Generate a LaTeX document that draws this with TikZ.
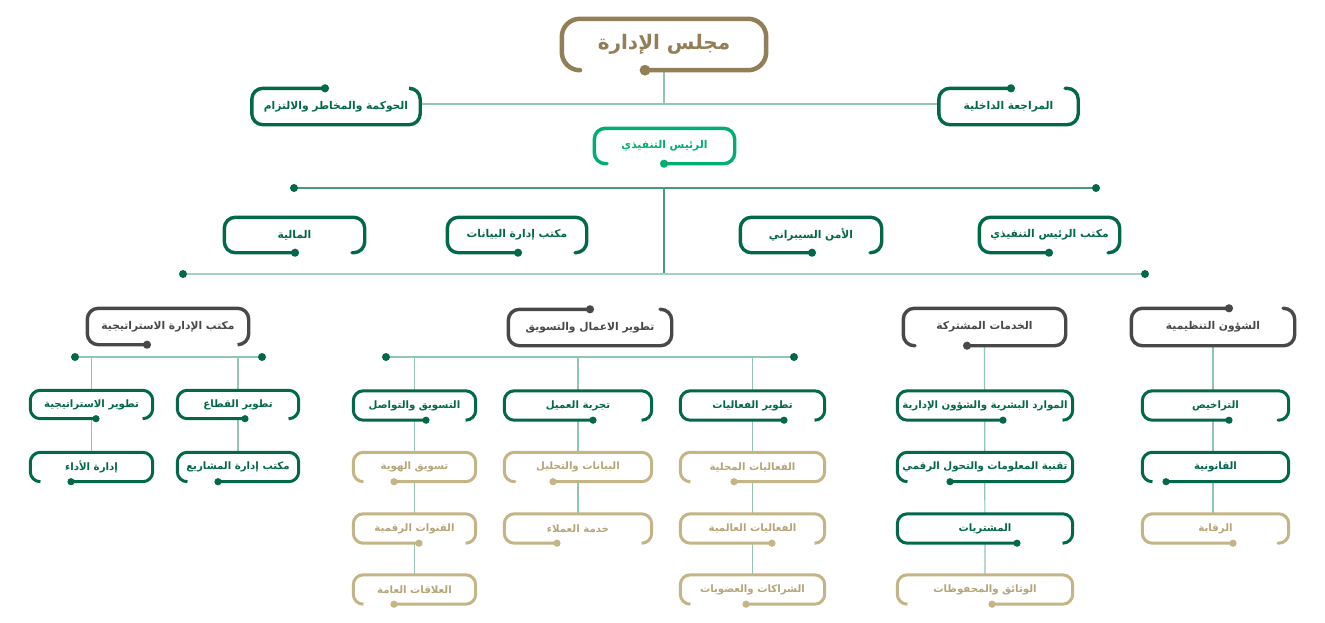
\documentclass[tikz,border=0pt]{standalone}
\usepackage{fontspec}
\newfontfamily\arabicfont[Script=Arabic]{DejaVu Sans}
\TeXXeTstate=1
\usetikzlibrary{backgrounds}
\pgfdeclarelayer{canvas}
\pgfsetlayers{canvas,background,main}
\definecolor{dgreen}{HTML}{03684A}
\definecolor{bgreen}{HTML}{00AE6F}
\definecolor{brownc}{HTML}{917F58}
\definecolor{beige}{HTML}{C4B587}
\definecolor{beigetext}{HTML}{B5A57A}
\definecolor{grayc}{HTML}{48484A}
\definecolor{lineA}{HTML}{93C6B2}
\definecolor{lineB}{HTML}{479B7B}
\definecolor{lineC}{HTML}{A6D0C0}
\newcommand\ar[1]{\beginR#1\endR}
% border with gap in top edge: dot on left part, stub at right corner
\newcommand\brdT[4]{%
  \draw[#1] (#4,0 |- #2.north) -- (#2.north east) -- (#2.south east) -- (#2.south west) -- (#2.north west) -- (#3,0 |- #2.north);
  \fill[#1] (#3,0 |- #2.north) circle[radius=1.2\pgflinewidth];}
% gap in bottom edge: dot on left part, stub at right corner
\newcommand\brdBR[4]{%
  \draw[#1] (#4,0 |- #2.south) -- (#2.south east) -- (#2.north east) -- (#2.north west) -- (#2.south west) -- (#3,0 |- #2.south);
  \fill[#1] (#3,0 |- #2.south) circle[radius=1.2\pgflinewidth];}
% gap in bottom edge: stub at left corner, dot on right part
\newcommand\brdBL[4]{%
  \draw[#1] (#4,0 |- #2.south) -- (#2.south west) -- (#2.north west) -- (#2.north east) -- (#2.south east) -- (#3,0 |- #2.south);
  \fill[#1] (#3,0 |- #2.south) circle[radius=1.2\pgflinewidth];}
\tikzset{
  boxn/.style={rectangle, rounded corners=11pt, fill=white, inner sep=0pt,
    font=\arabicfont\bfseries\fontsize{10.7}{13}\selectfont},
  lvl/.style={boxn, minimum height=36pt},
  sml/.style={boxn, minimum height=29pt, rounded corners=10pt,
    font=\arabicfont\bfseries\fontsize{10.2}{12}\selectfont},
  edgeL/.style={line cap=round, rounded corners=11pt, line width=3.4pt},
  edgeS/.style={line cap=round, rounded corners=10pt, line width=3pt},
  connA/.style={lineA, line width=1.2pt},
  connB/.style={lineB, line width=1.2pt},
  connC/.style={lineC, line width=2pt},
  enddot/.style={fill=dgreen},
}
\begin{document}
\begin{tikzpicture}[x=1pt,y=-1pt]
\begin{pgfonlayer}{canvas}
\fill[white] (0,0) rectangle (1325,622);
\end{pgfonlayer}
\useasboundingbox (0,0) rectangle (1325,622);

% ---------- top level ----------
\node[boxn, rounded corners=18pt, minimum width=204pt, minimum height=51pt, text=brownc,
  font=\arabicfont\bfseries\fontsize{20}{24}\selectfont] (board) at (664,44.5) {\ar{مجلس الإدارة}};
\brdBL{line cap=round, rounded corners=18pt, line width=4.5pt, brownc}{board}{645}{580}

\node[lvl, minimum width=168pt, text=dgreen] (gov) at (336,106.5) {\ar{الحوكمة والمخاطر والالتزام}};
\brdT{edgeL,dgreen}{gov}{325}{410}
\node[lvl, minimum width=139pt, text=dgreen] (audit) at (1008.5,106.5) {\ar{المراجعة الداخلية}};
\brdT{edgeL,dgreen}{audit}{1011}{1065}

\node[lvl, minimum width=140pt, minimum height=35pt, text=bgreen] (ceo) at (664.5,146) {\ar{الرئيس التنفيذي}};
\brdBL{edgeL,bgreen}{ceo}{664}{607}

\node[lvl, minimum width=140pt, minimum height=35pt, text=dgreen] (finance) at (294.5,235) {\ar{المالية}};
\brdBR{edgeL,dgreen}{finance}{295}{352}
\node[lvl, minimum width=139pt, minimum height=35pt, text=dgreen] (data) at (517,235) {\ar{مكتب إدارة البيانات}};
\brdBR{edgeL,dgreen}{data}{518}{575}
\node[lvl, minimum width=141pt, minimum height=35pt, text=dgreen] (cyber) at (811,235) {\ar{الأمن السيبراني}};
\brdBR{edgeL,dgreen}{cyber}{812}{870}
\node[lvl, minimum width=140pt, minimum height=35pt, text=dgreen] (ceooff) at (1049.5,235) {\ar{مكتب الرئيس التنفيذي}};
\brdBR{edgeL,dgreen}{ceooff}{1049}{1108}

% ---------- sector heads ----------
\node[lvl, minimum width=161pt, text=grayc] (strat) at (168,326.5) {\ar{مكتب الإدارة الاستراتيجية}};
\brdBR{edgeL,grayc}{strat}{147}{238}
\node[lvl, minimum width=163pt, text=grayc] (bizdev) at (590,327.5) {\ar{تطوير الاعمال والتسويق}};
\brdT{edgeL,grayc}{bizdev}{590}{660}
\node[lvl, minimum width=162pt, minimum height=37pt, text=grayc] (shared) at (984.5,327) {\ar{الخدمات المشتركة}};
\brdBL{edgeL,grayc}{shared}{967}{915}
\node[lvl, minimum width=163pt, minimum height=37pt, text=grayc] (reg) at (1213,327) {\ar{الشؤون التنظيمية}};
\brdT{edgeL,grayc}{reg}{1229}{1283}

% ---------- strategy ----------
\node[sml, minimum width=122pt, minimum height=28pt, text=dgreen] (stratdev) at (91.5,404.5) {\ar{تطوير الاستراتيجية}};
\brdBR{edgeS,dgreen}{stratdev}{96}{143}
\node[sml, minimum width=121pt, minimum height=28pt, text=dgreen] (sector) at (238,404.5) {\ar{تطوير القطاع}};
\brdBR{edgeS,dgreen}{sector}{245}{290}
\node[sml, minimum width=122pt, text=dgreen] (perf) at (91.5,467) {\ar{إدارة الأداء}};
\brdBL{edgeS,dgreen}{perf}{71}{40}
\node[sml, minimum width=121pt, text=dgreen] (pmo) at (238,467) {\ar{مكتب إدارة المشاريع}};
\brdBL{edgeS,dgreen}{pmo}{218}{187}

% ---------- business development ----------
\node[sml, minimum width=122pt, text=dgreen] (mkt) at (414.5,405.5) {\ar{التسويق والتواصل}};
\brdBR{edgeS,dgreen}{mkt}{426}{466}
\node[sml, minimum width=147pt, text=dgreen] (cx) at (578,405.5) {\ar{تجربة العميل}};
\brdBR{edgeS,dgreen}{cx}{593}{642}
\node[sml, minimum width=144pt, text=dgreen] (events) at (752.5,405.5) {\ar{تطوير الفعاليات}};
\brdBR{edgeS,dgreen}{events}{784}{815}

\node[sml, minimum width=122pt, text=beigetext] (identity) at (414.5,467) {\ar{تسويق الهوية}};
\brdBL{edgeS,beige}{identity}{394}{363}
\node[sml, minimum width=147pt, text=beigetext] (analytics) at (578,467) {\ar{البيانات والتحليل}};
\brdBL{edgeS,beige}{analytics}{553}{515}
\node[sml, minimum width=144pt, text=beigetext] (local) at (752.5,467) {\ar{الفعاليات المحلية}};
\brdBL{edgeS,beige}{local}{734}{690}

\node[sml, minimum width=122pt, text=beigetext] (digital) at (414.5,528.5) {\ar{القنوات الرقمية}};
\brdBR{edgeS,beige}{digital}{419}{466}
\node[sml, minimum width=147pt, text=beigetext] (service) at (578,528.5) {\ar{خدمة العملاء}};
\brdBR{edgeS,beige}{service}{557}{642}
\node[sml, minimum width=144pt, text=beigetext] (global) at (752.5,528.5) {\ar{الفعاليات العالمية}};
\brdBR{edgeS,beige}{global}{772}{815}

\node[sml, minimum width=122pt, text=beigetext] (pr) at (414.5,589.5) {\ar{العلاقات العامة}};
\brdBL{edgeS,beige}{pr}{394}{363}
\node[sml, minimum width=144pt, text=beigetext] (partners) at (752.5,589.5) {\ar{الشراكات والعضويات}};
\brdBL{edgeS,beige}{partners}{746}{690}

% ---------- shared services ----------
\node[sml, minimum width=175pt, text=dgreen] (hr) at (985,405.5) {\ar{الموارد البشرية والشؤون الإدارية}};
\brdBR{edgeS,dgreen}{hr}{1003}{1063}
\node[sml, minimum width=175pt, text=dgreen] (it) at (985,467) {\ar{تقنية المعلومات والتحول الرقمي}};
\brdBL{edgeS,dgreen}{it}{950}{907}
\node[sml, minimum width=175pt, text=dgreen] (procure) at (985,528.5) {\ar{المشتريات}};
\brdBR{edgeS,dgreen}{procure}{1017}{1063}
\node[sml, minimum width=175pt, text=beigetext] (archive) at (985,589.5) {\ar{الوثائق والمحفوظات}};
\brdBL{edgeS,beige}{archive}{992}{907}

% ---------- regulatory ----------
\node[sml, minimum width=146pt, text=dgreen] (licenses) at (1215.5,405.5) {\ar{التراخيص}};
\brdBR{edgeS,dgreen}{licenses}{1229}{1278}
\node[sml, minimum width=146pt, text=dgreen] (legal) at (1215.5,467) {\ar{القانونية}};
\brdBL{edgeS,dgreen}{legal}{1166}{1152}
\node[sml, minimum width=146pt, text=beigetext] (rakaba) at (1215.5,528.5) {\ar{الرقابة}};
\brdBR{edgeS,beige}{rakaba}{1233}{1278}

% ---------- connectors ----------
\coordinate (j1) at (664,104);
\coordinate (l2a) at (294,188);
\coordinate (l2b) at (1096,188);
\coordinate (j2) at (664,188);
\coordinate (j3) at (664,274);
\coordinate (l3a) at (183,274);
\coordinate (l3b) at (1145,274);
\coordinate (l4a) at (75,357);
\coordinate (l4b) at (262,357);
\coordinate (l5a) at (386,357);
\coordinate (l5b) at (794,357);

\begin{scope}[on background layer]
  \draw[connA] (gov.east |- j1) -- (audit.west |- j1);
  \draw[connA] (board.south) -- (j1);
  \draw[connB] (l2a) -- (l2b);
  \draw[connB] (j2) -- (j3);
  \draw[connC] (l3a) -- (l3b);
  \draw[connA] (l4a) -- (l4b);
  \draw[connA] (stratdev.north |- l4a) -- (perf.north);
  \draw[connA] (sector.north |- l4a) -- (pmo.north);
  \draw[connA] (l5a) -- (l5b);
  \draw[connA] (mkt.north |- l5a) -- (pr.north);
  \draw[connA] (cx.north |- l5a) -- (service.north);
  \draw[connA] (events.north |- l5a) -- (partners.north);
  \draw[connA] (shared.south) -- (archive.north);
  \draw[connA] (reg.south) -- (reg.south |- rakaba.north);
\end{scope}
\foreach \p in {l2a,l2b,l3a,l3b,l4a,l4b,l5a,l5b}
  \fill[enddot] (\p) circle[radius=4pt];
\end{tikzpicture}
\end{document}
